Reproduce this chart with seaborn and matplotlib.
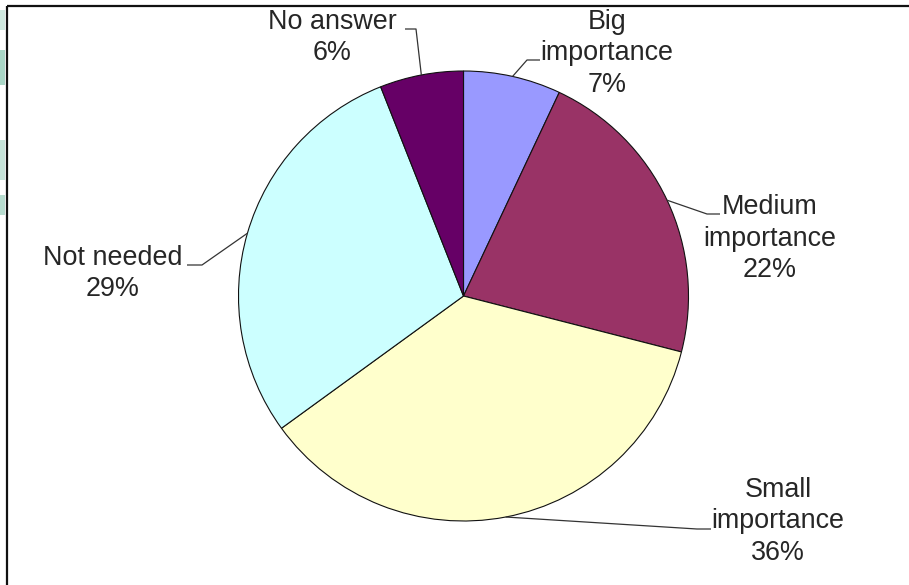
import numpy as np
import matplotlib
matplotlib.use("Agg")
import matplotlib.pyplot as plt
from matplotlib.patches import Rectangle
import seaborn as sns

# ---- data ----
categories = ["Big importance", "Medium importance", "Small importance", "Not needed", "No answer"]
label_lines = [["Big", "importance"], ["Medium", "importance"], ["Small", "importance"],
               ["Not needed"], ["No answer"]]
values = [7, 22, 36, 29, 6]
colors = ["#9999FF", "#993366", "#FFFFCC", "#CCFFFF", "#660066"]

sns.set_theme(style="white")
plt.rcParams['font.family'] = ['Liberation Sans', 'DejaVu Sans']

W, H = 909, 585
fig = plt.figure(figsize=(W / 100, H / 100), dpi=100)
ax = fig.add_axes([0, 0, 1, 1])

def py(y):
    return H - y

CX, CY, R = 463.5, 296, 225
wedges, _ = ax.pie(values, colors=colors, startangle=90, counterclock=False,
                   center=(CX, py(CY)), radius=R,
                   wedgeprops=dict(edgecolor="#111111", linewidth=0.8))
ax.set_xlim(0, W)
ax.set_ylim(0, H)
ax.set_aspect("equal")
ax.axis("off")

# label layout: text centre x, first baseline (pixels), leader elbow and end (pixels)
layout = [
    dict(x=607, y=29, elbow=(527, 60), end=(540, 60)),
    dict(x=770, y=214, elbow=(707, 214), end=(720, 214)),
    dict(x=778, y=497, elbow=(697, 529), end=(711, 529)),
    dict(x=112.5, y=265, elbow=(202, 265), end=(187, 265)),
    dict(x=332, y=29, elbow=(416, 29), end=(405, 29)),
]
LS = 31.5
for w, lines, v, lay in zip(wedges, label_lines, values, layout):
    mid = np.deg2rad((w.theta1 + w.theta2) / 2)
    ax_pt = (w.center[0] + w.r * np.cos(mid), w.center[1] + w.r * np.sin(mid))
    ex, ey = lay["elbow"]
    nx, ny = lay["end"]
    ax.plot([ax_pt[0], ex, nx], [ax_pt[1], py(ey), py(ny)], color="#333333", lw=0.9,
            solid_capstyle="butt", zorder=3)
    for i, t in enumerate(lines + [f"{v}%"]):
        ax.text(lay["x"], py(lay["y"] + i * LS), t, ha="center", va="baseline",
                fontsize=19.4, color="#262626", zorder=4)

# outer frame (top and left edges visible)
ax.plot([6.5, W], [py(5.5), py(5.5)], color="#111111", lw=1.6, solid_capstyle="butt")
ax.plot([6.5, 6.5], [py(5.5), 0], color="#111111", lw=1.6, solid_capstyle="butt")

# faint background marks at the far left edge
for y0, y1, c in [(10, 30, "#cfe8df"), (50, 85, "#a9d6c6"), (140, 180, "#c6e3d9"), (195, 215, "#b7dccf")]:
    ax.add_patch(Rectangle((0, py(y1)), 5, y1 - y0, color=c, lw=0, zorder=0))

fig.savefig("out.png", dpi=100)
